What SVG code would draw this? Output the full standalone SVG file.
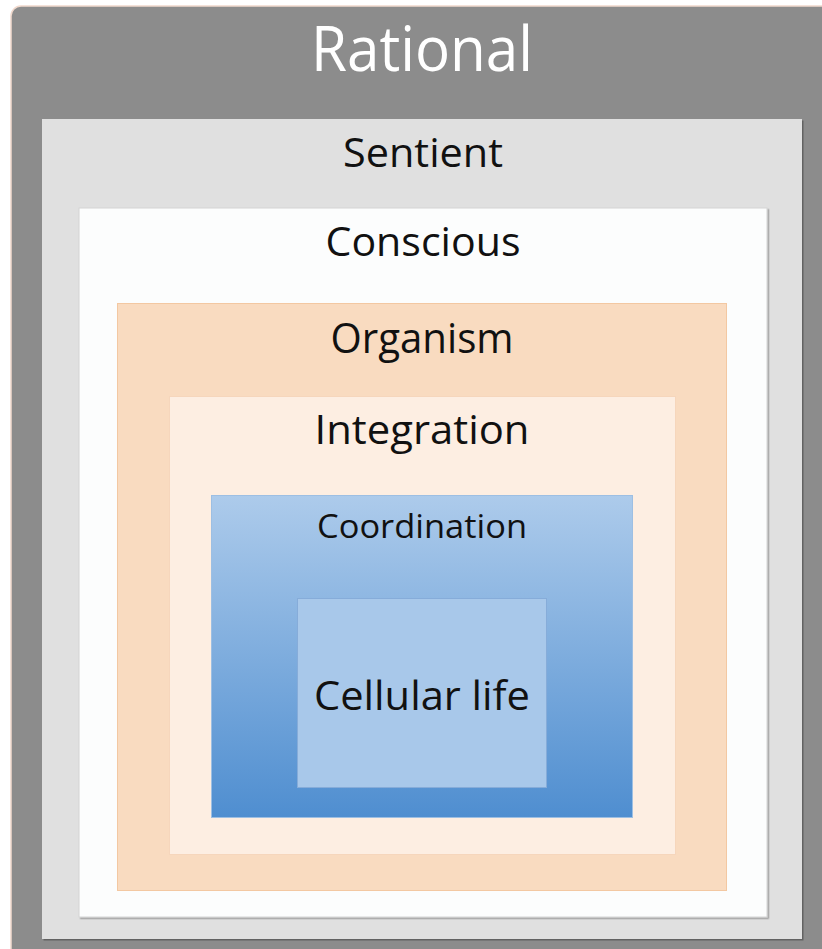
<svg xmlns="http://www.w3.org/2000/svg" width="822" height="949" viewBox="0 0 822 949">
  <defs>
    <linearGradient id="coordFill" x1="0" y1="0" x2="0" y2="1">
      <stop offset="0" stop-color="#adcbeb"/>
      <stop offset="1" stop-color="#4f8ed0"/>
    </linearGradient>
    <filter id="edgeShadow" x="-5%" y="-5%" width="110%" height="110%">
      <feDropShadow dx="1.5" dy="1.5" stdDeviation="0.6" flood-color="#000" flood-opacity="0.3"/>
    </filter>
  </defs>
  <style>
    text { font-family: "Open Sans", "Noto Sans", "Liberation Sans", sans-serif; text-anchor: middle; fill: #111; }
    .light { fill: #ffffff; }
  </style>
  <rect width="822" height="949" fill="#ffffff"/>

  <g id="rational">
    <rect x="11" y="6" width="830" height="960" rx="10" fill="#8c8c8c" stroke="#f1d9cd" stroke-width="1.5"/>
    <text class="light" x="422" y="71" font-size="62" textLength="222" lengthAdjust="spacingAndGlyphs">Rational</text>
  </g>

  <g id="sentient">
    <rect x="42" y="119" width="760" height="820" fill="#e0e0e0" filter="url(#edgeShadow)"/>
    <text x="423" y="167" font-size="40" textLength="160" lengthAdjust="spacingAndGlyphs">Sentient</text>
  </g>

  <g id="conscious">
    <rect x="79" y="208" width="688" height="709" fill="#fcfdfd" stroke="#d4d4d4" stroke-width="1" filter="url(#edgeShadow)"/>
    <text x="423" y="256" font-size="40" textLength="195" lengthAdjust="spacingAndGlyphs">Conscious</text>
  </g>

  <g id="organism">
    <rect x="117.5" y="303.5" width="609" height="587" fill="#f9dbc0" stroke="#f3c8a2" stroke-width="1"/>
    <text x="422" y="353" font-size="42" textLength="183" lengthAdjust="spacingAndGlyphs">Organism</text>
  </g>

  <g id="integration">
    <rect x="169.5" y="396.5" width="506" height="458" fill="#fdeee2" stroke="#f6d6bc" stroke-width="1"/>
    <text x="422" y="444" font-size="40" textLength="215" lengthAdjust="spacingAndGlyphs">Integration</text>
  </g>

  <g id="coordination">
    <rect x="211.5" y="495.5" width="421" height="322" fill="url(#coordFill)" stroke="#9dbfe3" stroke-width="1"/>
    <text x="422" y="538" font-size="32" textLength="210" lengthAdjust="spacingAndGlyphs">Coordination</text>
  </g>

  <g id="cellular-life">
    <rect x="297.5" y="598.5" width="249" height="189" fill="#a8c8ea" stroke="#86acd9" stroke-width="1"/>
    <text x="422" y="710" font-size="40" textLength="216" lengthAdjust="spacingAndGlyphs">Cellular life</text>
  </g>

  <g id="connectors"/>
</svg>
